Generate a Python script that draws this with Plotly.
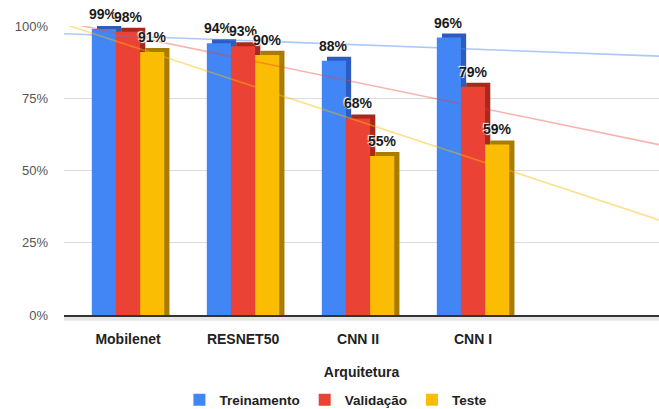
"""
Precisão por arquitetura - gráfico de barras com linhas de tendência
"""

import plotly.graph_objects as go
import numpy as np


# Dados
categorias = ['Mobilenet', 'RESNET50', 'CNN II', 'CNN I']
treinamento = [99, 94, 88, 96]
validacao = [98, 93, 68, 79]
teste = [91, 90, 55, 59]
ticks_y = [0, 25, 50, 75, 100]

# Cores (estilo Google Sheets)
SERIES = [
    ('Treinamento', treinamento, '#4285f4', '#2c5cc0', 'rgba(66,133,244,0.45)'),
    ('Validação', validacao, '#ea4335', '#a8281c', 'rgba(234,67,53,0.40)'),
    ('Teste', teste, '#fbbc04', '#a87c00', 'rgba(251,188,4,0.45)'),
]

FONT = 'Arial, Liberation Sans, sans-serif'
BAR_W = 0.21
OFFSETS = [-0.315, -0.105, 0.105]
DEPTH_X = 0.045
DEPTH_Y = 1.4
X_RANGE = [-0.557, 4.617]

x = np.arange(len(categorias))

fig = go.Figure()

# Faces laterais (efeito 3D)
for (nome, vals, cor, escura, _), off in zip(SERIES, OFFSETS):
    fig.add_trace(go.Bar(
        x=x, y=[v + DEPTH_Y for v in vals],
        width=BAR_W, offset=off + DEPTH_X,
        marker=dict(color=escura, line=dict(width=0)),
        showlegend=False, hoverinfo='skip'
    ))

# Barras principais
for (nome, vals, cor, escura, _), off in zip(SERIES, OFFSETS):
    fig.add_trace(go.Bar(
        x=x, y=vals, name=nome,
        width=BAR_W, offset=off,
        marker=dict(color=cor, line=dict(width=0)),
    ))

# Linhas de tendência (regressão linear)
x_line = np.array(X_RANGE)
for nome, vals, cor, escura, cor_tend in SERIES:
    a, b = np.polyfit(x, vals, 1)
    fig.add_trace(go.Scatter(
        x=x_line, y=a * x_line + b, mode='lines',
        line=dict(color=cor_tend, width=1.6),
        showlegend=False, hoverinfo='skip'
    ))

# Rótulos de dados
for (nome, vals, cor, escura, _), off in zip(SERIES, OFFSETS):
    for i, v in enumerate(vals):
        fig.add_annotation(
            x=i + off + BAR_W / 2, y=v, text=f'{v}%',
            showarrow=False, yshift=15,
            font=dict(family=FONT, size=14, color='#1a1a1a', weight='bold',
                      shadow='1px 1px 1px white, -1px -1px 1px white'),
        )

# Piso 3D
fig.add_shape(type='rect', xref='paper', yref='paper', x0=0, x1=1, y0=-0.02, y1=0,
              fillcolor='#e6e6e6', line=dict(width=0), layer='below')

fig.update_layout(
    barmode='overlay',
    width=659, height=409,
    margin=dict(l=64, r=0, t=26, b=94, autoexpand=False),
    plot_bgcolor='white', paper_bgcolor='white',
    font=dict(family=FONT, size=12, color='#222222'),
    legend=dict(
        orientation='h', x=0.457, xanchor='center', y=-0.294, yanchor='middle',
        font=dict(size=13.5, color='#222222', weight='bold'),
        itemwidth=30, traceorder='normal',
    ),
    xaxis=dict(
        range=X_RANGE, tickvals=list(x), ticktext=categorias,
        showgrid=False, zeroline=False,
        showline=True, linecolor='#333333', linewidth=1.5,
        tickfont=dict(size=14, color='#222222', weight='bold'),
        ticklabelstandoff=10,
        title=dict(text='Arquitetura', standoff=22,
                   font=dict(size=14, color='#222222', weight='bold')),
    ),
    yaxis=dict(
        range=[0, 100], tickvals=ticks_y, ticktext=[f'{t}%' for t in ticks_y],
        showgrid=True, gridcolor='#dcdcdc', zeroline=False,
        tickfont=dict(size=13, color='#555555'),
        ticklabelstandoff=15,
    ),
)

fig.write_html("out.html", config={'displayModeBar': False},
               post_script="document.body.style.margin='0';")
